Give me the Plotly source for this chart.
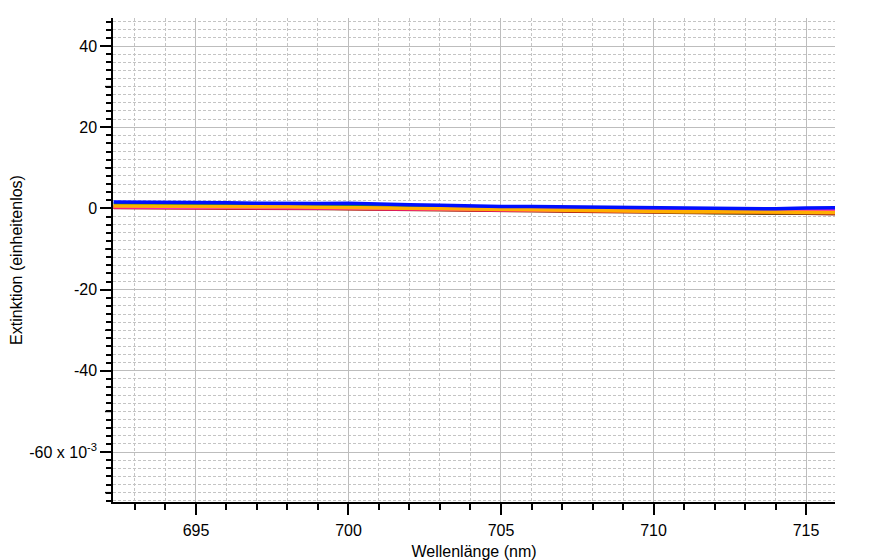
import plotly.graph_objects as go

# wavelength (nm)
wavelength = [692.3, 693, 694, 695, 696, 697, 698, 699, 700, 701, 702, 703, 704,
              705, 706, 707, 708, 709, 710, 711, 712, 713, 714, 715, 716]

# extinction values in units of 10^-3
green = [1.1, 1.0, 1.0, 0.9, 0.9, 0.8, 0.7, 0.7, 0.7, 0.5, 0.4, 0.3, 0.1,
         0.0, -0.1, -0.2, -0.4, -0.6, -0.8, -1.0, -1.0, -1.0, -1.0, -1.0, -1.1]
brown = [0.2, 0.2, 0.2, 0.1, 0.1, 0.1, 0.0, 0.0, -0.1, -0.1, -0.2, -0.3, -0.4,
         -0.5, -0.6, -0.7, -0.8, -0.9, -0.9, -1.0, -1.1, -1.1, -1.2, -1.2, -1.3]
red = [0.3, 0.3, 0.3, 0.3, 0.2, 0.2, 0.2, 0.1, 0.0, 0.0, -0.1, -0.2, -0.3,
       -0.4, -0.5, -0.6, -0.6, -0.7, -0.8, -0.8, -0.9, -0.9, -0.9, -0.9, -1.1]
magenta = [0.4, 0.3, 0.2, 0.2, 0.3, 0.3, 0.2, 0.2, 0.1, 0.0, 0.0, -0.1, -0.2,
           -0.3, -0.4, -0.5, -0.5, -0.6, -0.6, -0.6, -0.5, -0.5, -0.4, -0.4, -0.4]
orange = [0.6, 0.6, 0.5, 0.5, 0.5, 0.4, 0.4, 0.3, 0.2, 0.1, 0.0, -0.1, -0.3,
          -0.4, -0.5, -0.5, -0.6, -0.7, -0.7, -0.8, -0.8, -0.8, -0.8, -0.9, -1.0]
blue = [1.6, 1.6, 1.5, 1.4, 1.4, 1.3, 1.2, 1.2, 1.3, 1.0, 0.9, 0.8, 0.6,
        0.5, 0.5, 0.4, 0.3, 0.2, 0.2, 0.1, 0.0, -0.1, -0.1, 0.1, 0.2]

series = [
    ("brown", brown, "#8b2a10"),
    ("green", green, "#1a9a1a"),
    ("red", red, "#e8141a"),
    ("magenta", magenta, "#ff1fc0"),
    ("orange", orange, "#ffae00"),
    ("blue", blue, "#0010ff"),
]

y_tickvals = [-60, -40, -20, 0, 20, 40]
y_ticktext = ["-60 x 10<sup>-3</sup>", "-40", "-20", "0", "20", "40"]
x_tickvals = [695, 700, 705, 710, 715]
y_medium = [-70, -50, -30, -10, 10, 30]

fig = go.Figure()
for name, vals, col in series:
    fig.add_trace(go.Scatter(x=wavelength, y=vals, mode="lines", name=name,
                             line=dict(color=col, width=3.5), showlegend=False))

font = dict(family="Liberation Sans, Arial, sans-serif", size=16, color="black")

# page body has an 8px margin, so the figure is sized to fit the window
fig.update_layout(
    width=864, height=552,
    margin=dict(l=105, r=37, t=10, b=58, autoexpand=False),
    paper_bgcolor="white", plot_bgcolor="white",
    font=font,
    showlegend=False,
)
fig.update_xaxes(
    range=[692.28, 715.95], automargin=False,
    tickmode="array", tickvals=x_tickvals,
    ticks="outside", ticklen=11, tickcolor="black", tickwidth=1.5,
    ticklabelstandoff=2,
    showline=True, linecolor="black", linewidth=1.5,
    showgrid=True, gridcolor="#bdbdbd", gridwidth=1,
    zeroline=False,
    minor=dict(tickmode="linear", tick0=0, dtick=1, ticks="outside", ticklen=6,
               tickcolor="black", showgrid=True, gridcolor="#c4c4c4",
               griddash="3px,2px", gridwidth=1),
    title=dict(text="Wellenlänge (nm)", font=font, standoff=8),
    tickfont=font,
)
fig.update_yaxes(
    range=[-72.3, 46.9], automargin=False,
    tickmode="array", tickvals=y_tickvals, ticktext=y_ticktext,
    ticks="outside", ticklen=11, tickcolor="black", tickwidth=1.5,
    showline=True, linecolor="black", linewidth=1.5,
    showgrid=True, gridcolor="#bdbdbd", gridwidth=1,
    zeroline=False,
    minor=dict(tickmode="linear", tick0=0, dtick=2, ticks="outside", ticklen=5,
               tickcolor="black", showgrid=True, gridcolor="#c4c4c4",
               griddash="3px,2px", gridwidth=1),
    title=dict(text="Extinktion (einheitenlos)", font=font, standoff=8),
    tickfont=font,
)

for v in y_medium:
    fig.add_shape(type="line", xref="paper", yref="y", x0=-8 / 722, x1=0,
                  y0=v, y1=v, line=dict(color="black", width=1.5))

fig.write_html("out.html")
